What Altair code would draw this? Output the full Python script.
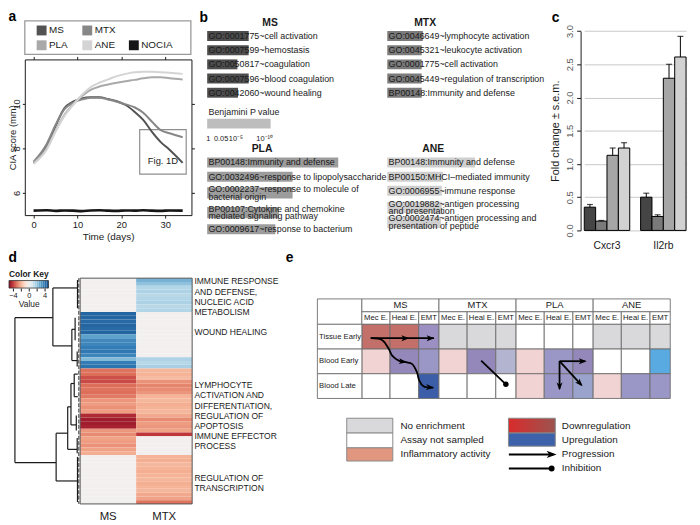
import altair as alt
import pandas as pd

NB = "\u00a0"

# ======================= values =======================
# --- a: CIA score over time ---
a_groups = ["MS", "MTX", "PLA", "ANE", "NOCIA"]
days = [0, 3, 5, 7, 9, 11, 13, 15, 17, 19, 21, 23, 25, 27, 29, 31, 34]
cia_ms = [7.35, 8.1, 9.0, 9.8, 10.1, 10.25, 10.3, 10.3, 10.22, 10.12, 9.95, 9.65, 9.28, 8.74, 8.28, 7.94, 7.35]
cia_mtx = [7.4, 8.2, 9.05, 9.75, 10.05, 10.2, 10.28, 10.28, 10.2, 10.1, 9.98, 9.85, 9.6, 9.2, 8.82, 8.68, 8.5]
cia_pla = [7.35, 8.0, 8.8, 9.5, 9.98, 10.35, 10.63, 10.78, 10.87, 10.95, 11.02, 11.08, 11.15, 11.2, 11.2, 11.15, 11.1]
cia_ane = [7.3, 7.95, 8.75, 9.45, 9.95, 10.4, 10.75, 10.95, 11.1, 11.25, 11.35, 11.42, 11.45, 11.45, 11.42, 11.4, 11.35]
cia_nocia = [5.2, 5.22, 5.19, 5.21, 5.2, 5.18, 5.21, 5.22, 5.2, 5.19, 5.21, 5.2, 5.22, 5.2, 5.19, 5.21, 5.2]
a_ticks_x = [0, 10, 20, 30]
a_ticks_y = [6, 8, 10]
a_callout = {"label": "Fig. 1D", "t0": 24.2, "t1": 34.8, "v0": 6.84, "v1": 8.84}

# --- b: enriched terms, bar = -log10 Benjamini P ---
b_blocks = ["MS", "MTX", "PLA", "ANE"]
ms_terms = ["GO:0001775~cell activation", "GO:0007599~hemostasis", "GO:0050817~coagulation",
            "GO:0007596~blood coagulation", "GO:0042060~wound healing"]
ms_logp = [7.0, 7.0, 5.1, 7.0, 5.2]
mtx_terms = ["GO:0046649~lymphocyte activation", "GO:0045321~leukocyte activation", "GO:0001775~cell activation",
             "GO:0045449~regulation of transcription", "BP00148:Immunity and defense"]
mtx_logp = [6.0, 5.8, 5.8, 5.8, 5.8]
pla_terms = ["BP00148:Immunity and defense", "GO:0032496~response to lipopolysaccharide",
             "GO:0002237~response to molecule of\n" + NB * 23 + "bacterial origin",
             "BP00107:Cytokine and chemokine\n" + NB * 18 + "mediated signaling pathway",
             "GO:0009617~response to bacterium"]
pla_logp = [22.1, 14.4, 14.4, 12.1, 11.5]
ane_terms = ["BP00148:Immunity and defense", "BP00150:MHCI\u2013mediated immunity", "GO:0006955~immune response",
             "GO:0019882~antigen processing\n" + NB * 18 + "and presentation",
             "GO:0002474~antigen processing and\n" + NB * 25 + "presentation of peptide"]
ane_logp = [14.8, 9.4, 9.2, 9.2, 9.05]
b_key_title = "Benjamini  P value"
b_key_max = 10.7
b_key_labels = ["1", "0.05", "10\u207b\u2075", "10\u207b\u00b9\u2070"]

# --- c: fold change ---
genes = ["Cxcr3", "Il2rb"]
c_groups = ["MS", "MTX", "PLA", "ANE"]
fold_cxcr3 = [0.35, 0.14, 1.13, 1.24]
err_cxcr3 = [0.04, 0.01, 0.11, 0.08]
fold_il2rb = [0.50, 0.21, 2.29, 2.61]
err_il2rb = [0.06, 0.025, 0.21, 0.31]
c_ticks_y = [0.0, 0.5, 1.0, 1.5, 2.0, 2.5, 3.0]

# --- d: heatmap ---
d_cols = ["MS", "MTX"]
ms_vals = ([0.0] * 9
           + [4.4, 4.4, 4.3, 4.4, 4.3, 4.4, 3.0, 3.6, 3.7, 3.9, 4.0, 3.7, 2.4, 3.9, 4.1]
           + [-3.0, -3.1, -3.6, -3.7, -3.1, -3.0, -3.1, -2.9, -2.4, -2.3, -2.5, -2.3]
           + [-4.3, -4.6, -4.6, -4.5]
           + [-2.4, -2.6, -2.2, -2.3, -2.5, -2.2, -2.0]
           + [0.0] * 13)
mtx_vals = ([2.6, 2.2, 1.6, 1.7, 1.5, 1.6, 1.7, 1.5, 1.6]
            + [0.0] * 12
            + [1.7, 1.5, 1.8]
            + [-1.8, -1.9, -1.7, -2.5, -2.7, -2.6, -2.4, -1.9, -1.8, -2.0, -1.9, -1.8]
            + [-2.1, -2.6, -2.3, -2.4]
            + [-2.2, -4.0]
            + [0.0] * 5
            + [-1.9, -2.0, -1.8, -1.9, -2.0, -1.9, -1.8, -2.0, -1.9, -1.8, -2.1, -2.2, -3.0])
d_label_blocks = [["IMMUNE RESPONSE", "AND DEFENSE,", "NUCLEIC ACID", "METABOLISM"],
                  ["WOUND HEALING"],
                  ["LYMPHOCYTE", "ACTIVATION AND", "DIFFERENTIATION,", "REGULATION OF", "APOPTOSIS",
                   "IMMUNE EFFECTOR", "PROCESS"],
                  ["REGULATION OF", "TRANSCRIPTION"]]
# dendrogram segments: (height1, row1, height2, row2)
dendro = [(22, 10.5, 22, 49.0), (22, 10.5, 9.2, 10.5), (22, 49.0, 8.1, 49.0),
          (9.2, 2.6, 9.2, 18.0), (9.2, 2.6, 0.9, 2.6), (9.2, 18.0, 2.8, 18.0),
          (0.9, 0.5, 0.9, 8.0), (2.8, 13.6, 2.8, 21.9), (2.8, 13.6, 1.7, 13.6),
          (1.7, 10.5, 1.7, 16.5), (2.8, 21.9, 1.0, 21.9), (1.0, 19.5, 1.0, 23.5),
          (8.1, 41.2, 8.1, 53.9), (8.1, 53.9, 0.9, 53.9), (0.9, 47.5, 0.9, 59.5),
          (8.1, 41.2, 4.2, 41.2), (4.2, 34.2, 4.2, 45.5), (4.2, 45.5, 1.0, 45.5),
          (1.0, 42.5, 1.0, 46.5), (4.2, 34.2, 3.1, 34.2), (3.1, 28.0, 3.1, 39.0),
          (3.1, 39.0, 1.3, 39.0), (1.3, 36.5, 1.3, 40.5), (3.1, 28.0, 2.0, 28.0),
          (2.0, 25.5, 2.0, 31.5), (2.0, 25.5, 0.8, 25.5), (2.0, 31.5, 0.8, 31.5)]
key_lo = [-5.0, -4.5, -4.0, -3.5, -3.0, -2.5, -2.0, -1.5, -1.0, -0.5,
          0.0, 0.5, 1.0, 1.5, 2.0, 2.5, 3.0, 3.5, 4.0, 4.5]
key_ticks = [-4, -2, 0, 2, 4]

# --- e: summary table ---
e_groups = ["MS", "MTX", "PLA", "ANE"]
e_subs = ["Mec E.", "Heal E.", "EMT"]
e_rows = ["Tissue Early", "Blood Early", "Blood Late"]
e_tissue_early = ["down", "down", "up_a", "none", "none", "none", "na", "na", "na", "none", "none", "none"]
e_blood_early = ["infl", "up_b", "up_c", "infl", "up_b", "up_l", "infl", "up_c", "up_b", "na", "na", "up_s"]
e_blood_late = ["na", "na", "up_d", "na", "na", "na", "infl", "up_c", "up_v", "infl", "up_c", "up_c"]
e_state_names = ["none", "na", "infl", "down", "up_a", "up_b", "up_c", "up_v", "up_l", "up_s", "up_d",
                 "infl_key", "up_key"]
e_state_colors = ["#d9d9db", "#ffffff", "#f2d3d3", "#c3706b", "#9b90c1", "#9487ba", "#9a97c7", "#9aa3cc",
                  "#b3b4d0", "#5aaae2", "#3c5ea8", "#e1977f", "#3e62a9"]
e_leg_left = [("none", "No enrichment"), ("na", "Assay not sampled"), ("infl_key", "Inflammatory activity")]
e_leg_right = ["Downregulation", "Upregulation", "Progression", "Inhibition"]
# annotation arrows in table units
e_straight = [(54, 39.7, 118, 39.7), (245, 63, 271, 63), (245, 63, 245, 91), (245, 63, 267, 87)]
e_inhibit = [(165.7, 62.4, 190.7, 86.4)]
e_curve = [(54, 39.7), (65.7, 41.7), (72.3, 50.7), (75.7, 57.4), (82.3, 62.4), (89.7, 64.0),
           (95.7, 65.7), (100.7, 74.0), (103.0, 82.4), (107.3, 88.4), (117.3, 89.7)]
e_heads = [(93, 39.7, 0), (118.5, 39.7, 0), (90.5, 64.1, 8), (118, 89.8, 5),
           (272.5, 63, 0), (245, 92.5, 90), (268.3, 88.4, 47)]

# ======================= layout & style =======================
MARGIN = 8
W, H = 692, 517
FONT = "Liberation Sans"
INK = "#1a1a1a"
A_COLORS = ["#525252", "#878787", "#a9a9a9", "#d4d4d4", "#161616"]
B_COLORS = ["#4d4d4d", "#7b7b7b", "#9c9c9c", "#cfcfcf"]
C_COLORS = ["#454545", "#7a7a7a", "#a6a6a6", "#d2d2d2"]
ARROW = "M-2,-0.75L0,0L-2,0.75L-1.5,0Z"


def lin(domain, page_range):
    return alt.Scale(domain=list(domain), range=[page_range[0] - MARGIN, page_range[1] - MARGIN],
                     zero=False, nice=False)


layers = []

# ---------------- panel a ----------------
AX = lin([-2, 36], [25, 193.6])
AY = lin([5, 12], [214.5, 57])
a_df = pd.DataFrame({"group": [g for g in a_groups for _ in days], "day": days * len(a_groups),
                     "cia": cia_ms + cia_mtx + cia_pla + cia_ane + cia_nocia})
a_color = alt.Color("group:N", scale=alt.Scale(domain=a_groups, range=A_COLORS), legend=None)
ax_bottom = alt.Axis(orient="bottom", offset=(214.5 - MARGIN) - H, values=a_ticks_x, tickSize=3,
                     labelPadding=2, labelFontSize=9.5, title="Time (days)", titleFontSize=10, titlePadding=2)
ay_left = alt.Axis(orient="left", offset=-(25 - MARGIN), values=a_ticks_y, tickSize=2.5, labelAngle=270,
                   labelAlign="center", labelBaseline="bottom", labelPadding=0.5, labelFontSize=9.5,
                   title="CIA score (mm)", titleFontSize=9.5, titleX=-12, titleY=(214.5 + 57) / 2 - MARGIN,
                   titleBaseline="middle", titleAlign="center")
layers.append(alt.Chart(a_df).mark_point(opacity=0).encode(
    x=alt.X("day:Q", scale=AX, axis=alt.Axis(orient="top", offset=-(57 - MARGIN), values=a_ticks_x,
                                             labels=False, tickSize=3, title=None)),
    y=alt.Y("cia:Q", scale=AY, axis=alt.Axis(orient="right", offset=(193.6 - MARGIN) - W, values=a_ticks_y,
                                             labels=False, tickSize=3, title=None))))
callout_df = pd.DataFrame([a_callout])
layers.append(alt.Chart(callout_df).mark_rect(fillOpacity=0, stroke="#8f8f8f", strokeWidth=1.2).encode(
    x=alt.X("t0:Q", scale=AX, axis=None), x2=alt.X2("t1"),
    y=alt.Y("v0:Q", scale=AY, axis=None), y2=alt.Y2("v1")))
layers.append(alt.Chart(a_df[a_df.group != "NOCIA"]).mark_line(strokeWidth=2, interpolate="monotone").encode(
    x=alt.X("day:Q", scale=AX, axis=ax_bottom), y=alt.Y("cia:Q", scale=AY, axis=ay_left), color=a_color))
layers.append(alt.Chart(a_df[a_df.group == "NOCIA"]).mark_line(strokeWidth=2.6, interpolate="monotone").encode(
    x=alt.X("day:Q", scale=AX, axis=None), y=alt.Y("cia:Q", scale=AY, axis=None), color=a_color))
layers.append(alt.Chart(callout_df).transform_calculate(
    tc="(datum.t0 + datum.t1) / 2", vc="datum.v0 + 0.58").mark_text(fontSize=9.5, color=INK).encode(
    x=alt.X("tc:Q", scale=AX, axis=None), y=alt.Y("vc:Q", scale=AY, axis=None), text="label:N"))

# legend of panel a
ALX = lin([0, 168], [25, 193])
ALY = lin([0, 34], [18, 52])
A_LEG_COLS = [17, 63.2, 110.3]
A_LEG_ROWS = [9.7, 24.7]
a_leg_slots = {"MS": (0, 0), "MTX": (1, 0), "PLA": (0, 1), "ANE": (1, 1), "NOCIA": (2, 1)}
aleg_df = pd.DataFrame([{"group": g, "lx": A_LEG_COLS[c], "ly": A_LEG_ROWS[r]} for g, (c, r) in a_leg_slots.items()])
abox_df = pd.DataFrame([{"x0": 0, "x1": 168, "y0": 0, "y1": 34}])
layers.append(alt.Chart(abox_df).mark_rect(fillOpacity=0, stroke="#9a9a9a", strokeWidth=1.3).encode(
    x=alt.X("x0:Q", scale=ALX, axis=None), x2=alt.X2("x1"), y=alt.Y("y0:Q", scale=ALY, axis=None), y2=alt.Y2("y1")))
layers.append(alt.Chart(aleg_df).mark_square(size=100, opacity=1).encode(
    x=alt.X("lx:Q", scale=ALX, axis=None), y=alt.Y("ly:Q", scale=ALY, axis=None), color=a_color))
layers.append(alt.Chart(aleg_df).mark_text(align="left", baseline="middle", dx=7.5, fontSize=10, color=INK).encode(
    x=alt.X("lx:Q", scale=ALX, axis=None), y=alt.Y("ly:Q", scale=ALY, axis=None), text="group:N"))

# ---------------- panel b ----------------
BX = lin([0, 50], [209.5, 509.5])
BY = lin([0, 15], [33.3, 33.3 + 15 * 14.35])
B_COL_OFFSET = {"MS": 0.0, "MTX": 30.37, "PLA": 0.0, "ANE": 30.37}
B_BLOCK_SLOT = {"MS": 0.0, "MTX": 0.0, "PLA": 8.92, "ANE": 8.92}
B_ITEM_SLOTS = {"MS": [0, 1, 2, 3, 4], "MTX": [0, 1, 2, 3, 4],
                "PLA": [0, 1, 2.14, 3.53, 4.70], "ANE": [0, 1, 1.99, 3.17, 4.21]}
B_TITLE_POS = {"MS": (10.6, -0.93), "MTX": (36.75, -0.93), "PLA": (9.25, 7.96), "ANE": (38.1, 7.96)}
B_LINE_H = 7.6
b_terms = {"MS": ms_terms, "MTX": mtx_terms, "PLA": pla_terms, "ANE": ane_terms}
b_logp = {"MS": ms_logp, "MTX": mtx_logp, "PLA": pla_logp, "ANE": ane_logp}
rows = []
for blk in b_blocks:
    for i, (term, lp) in enumerate(zip(b_terms[blk], b_logp[blk])):
        n = term.count("\n") + 1
        s = B_BLOCK_SLOT[blk] + B_ITEM_SLOTS[blk][i]
        hh = 0.35 if n == 1 else 0.40
        x0 = B_COL_OFFSET[blk]
        rows.append({"block": blk, "term": term, "n": n, "x0": x0, "x1": x0 + lp, "s": s,
                     "s0": s - hh, "s1": s + hh})
b_df = pd.DataFrame(rows)
b_color = alt.Color("block:N", scale=alt.Scale(domain=b_blocks, range=B_COLORS), legend=None)
layers.append(alt.Chart(b_df).mark_rect().encode(
    x=alt.X("x0:Q", scale=BX, axis=None), x2=alt.X2("x1"), y=alt.Y("s0:Q", scale=BY, axis=None), y2=alt.Y2("s1"),
    color=b_color))
for nlines, shift in [(1, 0.0), (2, -B_LINE_H / 2)]:
    layers.append(alt.Chart(b_df[b_df.n == nlines]).mark_text(
        align="left", baseline="middle", dx=1.3, dy=shift, fontSize=9, lineBreak="\n", lineHeight=B_LINE_H,
        color=INK).encode(
        x=alt.X("x0:Q", scale=BX, axis=None), y=alt.Y("s:Q", scale=BY, axis=None), text="term:N"))
bt_df = pd.DataFrame([{"block": k, "tx": v[0], "ty": v[1]} for k, v in B_TITLE_POS.items()])
layers.append(alt.Chart(bt_df).mark_text(fontSize=10.5, fontWeight="bold", color=INK).encode(
    x=alt.X("tx:Q", scale=BX, axis=None), y=alt.Y("ty:Q", scale=BY, axis=None), text="block:N"))
bk_df = pd.DataFrame([{"t": b_key_title, "x0": 0.0, "x1": b_key_max, "ty": 5.35, "s0": 5.83, "s1": 6.53}])
layers.append(alt.Chart(bk_df).mark_rect(color="#bdbdbd").encode(
    x=alt.X("x0:Q", scale=BX, axis=None), x2=alt.X2("x1"), y=alt.Y("s0:Q", scale=BY, axis=None), y2=alt.Y2("s1")))
layers.append(alt.Chart(bk_df).mark_text(align="left", baseline="middle", dx=1.3, fontSize=9, color=INK).encode(
    x=alt.X("x0:Q", scale=BX, axis=None), y=alt.Y("ty:Q", scale=BY, axis=None), text="t:N"))
B_KEY_LABEL_X = [0.2, 2.35, 4.85, 9.7]
bkl_df = pd.DataFrame({"lab": b_key_labels, "lx": B_KEY_LABEL_X, "ly": [7.23] * 4})
layers.append(alt.Chart(bkl_df).mark_text(fontSize=7.5, color=INK).encode(
    x=alt.X("lx:Q", scale=BX, axis=None), y=alt.Y("ly:Q", scale=BY, axis=None), text="lab:N"))

# ---------------- panel c ----------------
c_df = pd.DataFrame({"gene": [g for g in genes for _ in c_groups], "group": c_groups * 2,
                     "fold": fold_cxcr3 + fold_il2rb, "err": err_cxcr3 + err_il2rb})
c_df["top"] = c_df["fold"] + c_df["err"]
CXS = alt.Scale(domain=genes, range=[591 - MARGIN, 694 - MARGIN], paddingInner=0.193, paddingOuter=0)
CXO = alt.Scale(domain=c_groups, paddingInner=0, paddingOuter=0)
CY = lin([0, 3], [230, 28.3])
c_color = alt.Color("group:N", scale=alt.Scale(domain=c_groups, range=C_COLORS), legend=None)
layers.append(alt.Chart(c_df).mark_bar(stroke="black", strokeWidth=1).encode(
    x=alt.X("gene:N", scale=CXS, axis=alt.Axis(orient="bottom", offset=(230 - MARGIN) - H, domain=False,
                                               ticks=False, labelAngle=0, labelPadding=10, labelFontSize=10.5,
                                               title=None)),
    xOffset=alt.XOffset("group:N", scale=CXO),
    y=alt.Y("fold:Q", scale=CY, axis=alt.Axis(orient="left", offset=-(587.3 - MARGIN), values=c_ticks_y,
                                              format=".1f", labelAngle=270, labelAlign="center",
                                              labelBaseline="bottom", tickSize=4, labelPadding=2,
                                              labelFontSize=9.5, labelColor="#555555", grid=True,
                                              gridColor="#c8c8c8", gridWidth=1,
                                              title="Fold change \u00b1 s.e.m.", titleFontSize=11,
                                              titlePadding=4)),
    color=c_color))
layers.append(alt.Chart(c_df).mark_rule(color="black", strokeWidth=1).encode(
    x=alt.X("gene:N", scale=CXS, axis=None), xOffset=alt.XOffset("group:N", scale=CXO),
    y=alt.Y("fold:Q", scale=CY, axis=None), y2=alt.Y2("top")))
layers.append(alt.Chart(c_df).mark_tick(color="black", thickness=1.2, size=6, orient="horizontal").encode(
    x=alt.X("gene:N", scale=CXS, axis=None), xOffset=alt.XOffset("group:N", scale=CXO),
    y=alt.Y("top:Q", scale=CY, axis=None)))

# ---------------- panel d ----------------
HX = lin([0, 2], [81, 194.3])
HY = lin([0, 60], [278.3, 506.7])
DX = lin([0, 22], [81, 15])
KX = lin([-5, 5], [9, 49])
KY = lin([0, 1], [288.3, 280.7])
heat_df = pd.DataFrame({"c": [0] * len(ms_vals) + [1] * len(mtx_vals),
                        "r": list(range(len(ms_vals))) + list(range(len(mtx_vals))),
                        "v": ms_vals + mtx_vals})
heat_color = alt.Color("v:Q", scale=alt.Scale(scheme="redblue", domain=[-5, 5]), legend=None)
layers.append(alt.Chart(heat_df).transform_calculate(c1="datum.c + 1", r1="datum.r + 1").mark_rect().encode(
    x=alt.X("c:Q", scale=HX, axis=None), x2=alt.X2("c1"), y=alt.Y("r:Q", scale=HY, axis=None), y2=alt.Y2("r1"),
    color=heat_color))
hb_df = pd.DataFrame([{"x0": 0, "x1": 2, "y0": 0, "y1": 60}])
layers.append(alt.Chart(hb_df).mark_rect(fillOpacity=0, stroke="#555555", strokeWidth=1).encode(
    x=alt.X("x0:Q", scale=HX, axis=None), x2=alt.X2("x1"), y=alt.Y("y0:Q", scale=HY, axis=None), y2=alt.Y2("y1")))
hc_df = pd.DataFrame({"name": d_cols, "cx": [i + 0.5 for i in range(len(d_cols))], "cy": [63.5] * len(d_cols)})
layers.append(alt.Chart(hc_df).mark_text(fontSize=11.5, color=INK).encode(
    x=alt.X("cx:Q", scale=HX, axis=None), y=alt.Y("cy:Q", scale=HY, axis=None), text="name:N"))
D_LABEL_START = [0.89, 14.44, 28.49, 53.02]
D_LINE = 2.7
dl_rows = []
for blk, start in zip(d_label_blocks, D_LABEL_START):
    for k, line in enumerate(blk):
        dl_rows.append({"t": line, "lx": 2.04, "ly": start + k * D_LINE})
layers.append(alt.Chart(pd.DataFrame(dl_rows)).mark_text(align="left", baseline="middle", fontSize=8.6,
                                                         color=INK).encode(
    x=alt.X("lx:Q", scale=HX, axis=None), y=alt.Y("ly:Q", scale=HY, axis=None), text="t:N"))
dd_df = pd.DataFrame(dendro, columns=["h1", "r1", "h2", "r2"])
layers.append(alt.Chart(dd_df).mark_rule(color=INK, strokeWidth=1.2).encode(
    x=alt.X("h1:Q", scale=DX, axis=None), x2=alt.X2("h2"), y=alt.Y("r1:Q", scale=HY, axis=None), y2=alt.Y2("r2")))
leaf_df = pd.DataFrame([{"h": 0.45, "r1": 0, "r2": 60}])
layers.append(alt.Chart(leaf_df).mark_rule(color="#333333", strokeWidth=1, strokeDash=[4, 1.5]).encode(
    x=alt.X("h:Q", scale=DX, axis=None), y=alt.Y("r1:Q", scale=HY, axis=None), y2=alt.Y2("r2")))
# color key
key_df = pd.DataFrame({"lo": key_lo})
layers.append(alt.Chart(key_df).transform_calculate(
    hi="datum.lo + 0.5", mid="datum.lo + 0.25", k0="0", k1="1").mark_rect().encode(
    x=alt.X("lo:Q", scale=KX, axis=alt.Axis(orient="bottom", offset=(288.3 - MARGIN) - H, values=key_ticks,
                                            labelExpr="abs(datum.value) % 4 == 0 ? datum.label : ''",
                                            tickSize=3, labelPadding=1, labelFontSize=7.5, domain=False,
                                            title="Value", titleFontSize=8.5, titlePadding=0)),
    x2=alt.X2("hi"), y=alt.Y("k0:Q", scale=KY, axis=None), y2=alt.Y2("k1"),
    color=alt.Color("mid:Q", scale=alt.Scale(scheme="redblue", domain=[-5, 5]), legend=None)))
kb_df = pd.DataFrame([{"x0": -5, "x1": 5, "y0": 0, "y1": 1, "t": "Color Key", "tx": 0, "ty": 1.8}])
layers.append(alt.Chart(kb_df).mark_rect(fillOpacity=0, stroke="#333333", strokeWidth=0.8).encode(
    x=alt.X("x0:Q", scale=KX, axis=None), x2=alt.X2("x1"), y=alt.Y("y0:Q", scale=KY, axis=None), y2=alt.Y2("y1")))
layers.append(alt.Chart(kb_df).mark_text(fontSize=8.5, fontWeight="bold", color=INK).encode(
    x=alt.X("tx:Q", scale=KX, axis=None), y=alt.Y("ty:Q", scale=KY, axis=None), text="t:N"))

# ---------------- panel e ----------------
EX = lin([0, 360], [321, 681])
EY = lin([0, 180], [299.3, 479.3])
E_LABEL_W = 45.0
E_SUB_W = [28.5, 29.0, 20.5]
E_HDR = [13.0, 12.7]
E_ROW_H = 25.0
e_state = {"Tissue Early": e_tissue_early, "Blood Early": e_blood_early, "Blood Late": e_blood_late}
gw = sum(E_SUB_W)
top = E_HDR[0] + E_HDR[1]
cells, texts = [], []
cells.append({"x0": 0, "x1": E_LABEL_W, "y0": 0, "y1": top, "state": "na"})
for gi, g in enumerate(e_groups):
    gx = E_LABEL_W + gi * gw
    cells.append({"x0": gx, "x1": gx + gw, "y0": 0, "y1": E_HDR[0], "state": "na"})
    texts.append({"t": g, "tx": gx + gw / 2, "ty": E_HDR[0] / 2, "kind": "group"})
    sx0 = gx
    for si, s in enumerate(e_subs):
        sx1 = sx0 + E_SUB_W[si]
        cells.append({"x0": sx0, "x1": sx1, "y0": E_HDR[0], "y1": top, "state": "na"})
        texts.append({"t": s, "tx": (sx0 + sx1) / 2, "ty": E_HDR[0] + E_HDR[1] / 2, "kind": "sub"})
        for ri, r in enumerate(e_rows):
            y0 = top + ri * E_ROW_H
            cells.append({"x0": sx0, "x1": sx1, "y0": y0, "y1": y0 + E_ROW_H, "state": e_state[r][gi * 3 + si]})
        sx0 = sx1
for ri, r in enumerate(e_rows):
    y0 = top + ri * E_ROW_H
    cells.append({"x0": 0, "x1": E_LABEL_W, "y0": y0, "y1": y0 + E_ROW_H, "state": "na"})
    texts.append({"t": r, "tx": 1.7, "ty": y0 + E_ROW_H / 2, "kind": "row"})
e_fill = alt.Color("state:N", scale=alt.Scale(domain=e_state_names, range=e_state_colors), legend=None)
cells_df = pd.DataFrame(cells)
layers.append(alt.Chart(cells_df).mark_rect(stroke="#6e6e6e", strokeWidth=0.9).encode(
    x=alt.X("x0:Q", scale=EX, axis=None), x2=alt.X2("x1"), y=alt.Y("y0:Q", scale=EY, axis=None), y2=alt.Y2("y1"),
    color=e_fill))
tx_df = pd.DataFrame(texts)
layers.append(alt.Chart(tx_df[tx_df.kind == "group"]).mark_text(fontSize=9.5, color=INK).encode(
    x=alt.X("tx:Q", scale=EX, axis=None), y=alt.Y("ty:Q", scale=EY, axis=None), text="t:N"))
layers.append(alt.Chart(tx_df[tx_df.kind == "sub"]).mark_text(fontSize=7.8, color=INK).encode(
    x=alt.X("tx:Q", scale=EX, axis=None), y=alt.Y("ty:Q", scale=EY, axis=None), text="t:N"))
layers.append(alt.Chart(tx_df[tx_df.kind == "row"]).mark_text(fontSize=7.8, align="left", color=INK).encode(
    x=alt.X("tx:Q", scale=EX, axis=None), y=alt.Y("ty:Q", scale=EY, axis=None), text="t:N"))
# arrows
seg_df = pd.DataFrame(e_straight + e_inhibit, columns=["x1", "y1", "x2", "y2"])
layers.append(alt.Chart(seg_df).mark_rule(color="black", strokeWidth=1.8).encode(
    x=alt.X("x1:Q", scale=EX, axis=None), x2=alt.X2("x2"), y=alt.Y("y1:Q", scale=EY, axis=None), y2=alt.Y2("y2")))
curve_df = pd.DataFrame(e_curve, columns=["cx", "cy"])
curve_df["i"] = range(len(curve_df))
layers.append(alt.Chart(curve_df).mark_line(color="black", strokeWidth=1.8, interpolate="catmull-rom").encode(
    x=alt.X("cx:Q", scale=EX, axis=None), y=alt.Y("cy:Q", scale=EY, axis=None), order="i:Q"))
heads_df = pd.DataFrame(e_heads, columns=["hx", "hy", "ang"])
layers.append(alt.Chart(heads_df).mark_point(shape=ARROW, filled=True, size=64, color="black", opacity=1).encode(
    x=alt.X("hx:Q", scale=EX, axis=None), y=alt.Y("hy:Q", scale=EY, axis=None),
    angle=alt.Angle("ang:Q", scale=None)))
dot_df = pd.DataFrame([(x2, y2) for (_, _, x2, y2) in e_inhibit], columns=["dx", "dy"])
layers.append(alt.Chart(dot_df).mark_circle(size=30, color="black", opacity=1).encode(
    x=alt.X("dx:Q", scale=EX, axis=None), y=alt.Y("dy:Q", scale=EY, axis=None)))

# legend of panel e
EL_BOX_X = (29.7, 76.3)
EL_ROWS = [(120.7, 135.7), (135.7, 150.7), (150.7, 164.0)]
EL_LAB_X = 84
ER_BOX_X = (193.3, 240.7)
ER_ROWS = [(120.7, 135.7), (135.7, 149.0)]
ER_LAB_X = 247.3
ER_LAB_Y = [128.2, 142.4, 156.8, 171.2]
ell = []
for (st, lab), (y0, y1) in zip(e_leg_left, EL_ROWS):
    ell.append({"state": st, "t": lab, "x0": EL_BOX_X[0], "x1": EL_BOX_X[1], "y0": y0, "y1": y1,
                "lx": EL_LAB_X, "ly": (y0 + y1) / 2})
ell_df = pd.DataFrame(ell)
layers.append(alt.Chart(ell_df).mark_rect(stroke="#8a8a8a", strokeWidth=1).encode(
    x=alt.X("x0:Q", scale=EX, axis=None), x2=alt.X2("x1"), y=alt.Y("y0:Q", scale=EY, axis=None), y2=alt.Y2("y1"),
    color=e_fill))
layers.append(alt.Chart(ell_df).mark_text(align="left", fontSize=10, color=INK).encode(
    x=alt.X("lx:Q", scale=EX, axis=None), y=alt.Y("ly:Q", scale=EY, axis=None), text="t:N"))
down_df = pd.DataFrame([{"x0": ER_BOX_X[0], "x1": ER_BOX_X[1], "y0": ER_ROWS[0][0], "y1": ER_ROWS[0][1]}])
layers.append(alt.Chart(down_df).mark_rect(
    fill=alt.Gradient(gradient="linear", stops=[alt.GradientStop(color="#d92b2b", offset=0),
                                                alt.GradientStop(color="#9c5450", offset=1)],
                      x1=0, x2=1, y1=0, y2=0),
    stroke="#8a8a8a", strokeWidth=1).encode(
    x=alt.X("x0:Q", scale=EX, axis=None), x2=alt.X2("x1"), y=alt.Y("y0:Q", scale=EY, axis=None), y2=alt.Y2("y1")))
up_df = pd.DataFrame([{"state": "up_key", "x0": ER_BOX_X[0], "x1": ER_BOX_X[1], "y0": ER_ROWS[1][0],
                       "y1": ER_ROWS[1][1]}])
layers.append(alt.Chart(up_df).mark_rect(stroke="#8a8a8a", strokeWidth=1).encode(
    x=alt.X("x0:Q", scale=EX, axis=None), x2=alt.X2("x1"), y=alt.Y("y0:Q", scale=EY, axis=None), y2=alt.Y2("y1"),
    color=e_fill))
erl_df = pd.DataFrame({"t": e_leg_right, "lx": [ER_LAB_X] * 4, "ly": ER_LAB_Y})
layers.append(alt.Chart(erl_df).mark_text(align="left", fontSize=10, color=INK).encode(
    x=alt.X("lx:Q", scale=EX, axis=None), y=alt.Y("ly:Q", scale=EY, axis=None), text="t:N"))
eleg_lines = pd.DataFrame([{"x1": 193.7, "x2": 238.5, "y": ER_LAB_Y[2] + 0.5},
                           {"x1": 193.7, "x2": 237.0, "y": ER_LAB_Y[3] + 0.3}])
layers.append(alt.Chart(eleg_lines).mark_rule(color="black", strokeWidth=2).encode(
    x=alt.X("x1:Q", scale=EX, axis=None), x2=alt.X2("x2"), y=alt.Y("y:Q", scale=EY, axis=None)))
layers.append(alt.Chart(pd.DataFrame([{"hx": 242.0, "hy": ER_LAB_Y[2] + 0.5, "ang": 0}])).mark_point(
    shape=ARROW, filled=True, size=100, color="black", opacity=1).encode(
    x=alt.X("hx:Q", scale=EX, axis=None), y=alt.Y("hy:Q", scale=EY, axis=None),
    angle=alt.Angle("ang:Q", scale=None)))
layers.append(alt.Chart(pd.DataFrame([{"dx": 237.0, "dy": ER_LAB_Y[3] + 0.3}])).mark_circle(
    size=36, color="black", opacity=1).encode(
    x=alt.X("dx:Q", scale=EX, axis=None), y=alt.Y("dy:Q", scale=EY, axis=None)))

# ---------------- panel letters ----------------
FX = lin([0, 700], [0, 700])
FY = lin([0, 525], [0, 525])
LETTERS = {"a": (8.5, 18.5), "b": (201.7, 19), "c": (558, 19), "d": (8.5, 262), "e": (289, 262)}
let_df = pd.DataFrame([{"t": k, "lx": v[0], "ly": v[1]} for k, v in LETTERS.items()])
layers.append(alt.Chart(let_df).mark_text(align="left", baseline="alphabetic", fontSize=14, fontWeight="bold",
                                          color="black").encode(
    x=alt.X("lx:Q", scale=FX, axis=None), y=alt.Y("ly:Q", scale=FY, axis=None), text="t:N"))

chart = alt.layer(*layers).resolve_scale(
    x="independent", y="independent", color="independent", xOffset="independent", angle="independent"
).properties(
    width=W, height=H, autosize=alt.AutoSizeParams(type="none"), padding=0
).configure(font=FONT).configure_view(stroke=None).configure_axis(
    labelFont=FONT, titleFont=FONT, labelColor=INK, titleColor=INK, domainColor=INK, tickColor=INK,
    titleFontWeight="normal", grid=False
).configure_text(font=FONT)

chart.save("out.html", embed_options={"renderer": "svg", "actions": False})
